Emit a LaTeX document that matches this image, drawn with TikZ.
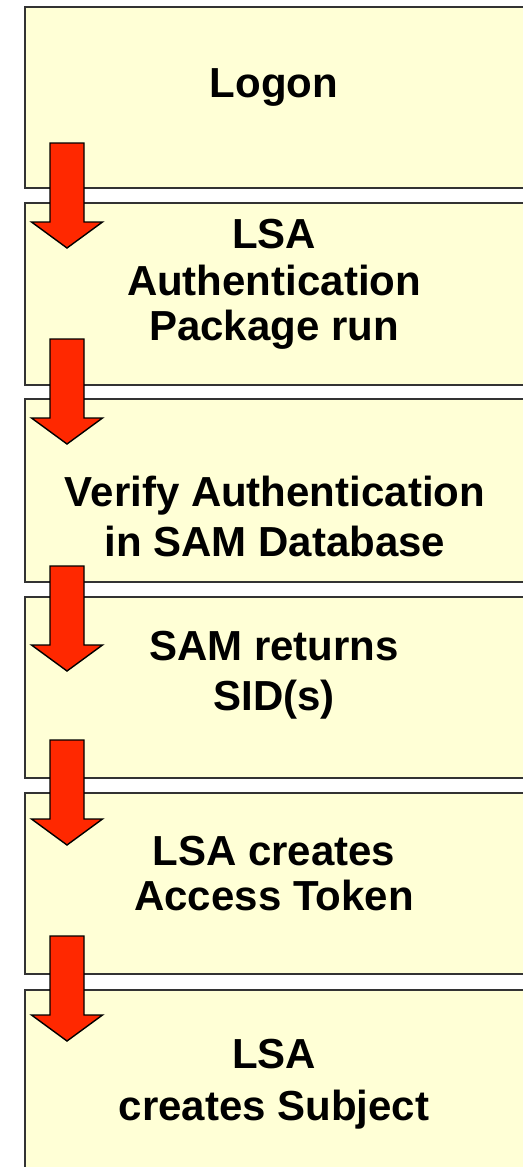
\documentclass[tikz,border=0pt]{standalone}
\usepackage{fontspec}
\setmainfont{Liberation Sans}
\definecolor{boxfill}{RGB}{255,255,214}
\definecolor{arrowred}{RGB}{255,40,0}
\begin{document}
\begin{tikzpicture}[x=1pt,y=-1pt,
  stepbox/.style={rectangle, draw=black!80, line width=1.5pt, fill=boxfill,
    anchor=north west, minimum width=500pt, inner sep=0pt},
  steptext/.style={anchor=base, inner sep=0pt,
    font=\fontsize{42}{48}\selectfont\bfseries},
  flow arrow/.pic={
    \path[draw=black, line width=1.4pt, fill=arrowred, line join=miter]
      (-17,0) -- (17,0) -- (17,79) -- (35.5,79) -- (0,105)
      -- (-35.5,79) -- (-17,79) -- cycle;}]
\useasboundingbox (0,0) rectangle (522,1167);

% process steps
\node[stepbox, minimum height=181pt] (b1) at (24,6)   {};
\node[stepbox, minimum height=182pt] (b2) at (24,202) {};
\node[stepbox, minimum height=183pt] (b3) at (24,398) {};
\node[stepbox, minimum height=181pt] (b4) at (24,596) {};
\node[stepbox, minimum height=181pt] (b5) at (24,792) {};
\node[stepbox, minimum height=200pt] (b6) at (24,989) {};

% step captions
\node[steptext] (t1)  at (274,97)   {Logon};
\node[steptext] (t2a) at (274,248)  {LSA};
\node[steptext] (t2b) at (274,295)  {Authentication};
\node[steptext] (t2c) at (274,340)  {Package run};
\node[steptext] (t3a) at (275,506)  {Verify Authentication};
\node[steptext] (t3b) at (275,556)  {in SAM Database};
\node[steptext] (t4a) at (274,660)  {SAM returns};
\node[steptext] (t4b) at (274,710)  {SID(s)};
\node[steptext] (t5a) at (274,865)  {LSA creates};
\node[steptext] (t5b) at (274,910)  {Access Token};
\node[steptext] (t6a) at (274,1068) {LSA};
\node[steptext] (t6b) at (274,1120) {creates Subject};

% block arrows linking consecutive steps
\pic at (67,143) {flow arrow};
\pic at (67,339) {flow arrow};
\pic at (67,566) {flow arrow};
\pic at (67,740) {flow arrow};
\pic at (67,936) {flow arrow};
\end{tikzpicture}
\end{document}
